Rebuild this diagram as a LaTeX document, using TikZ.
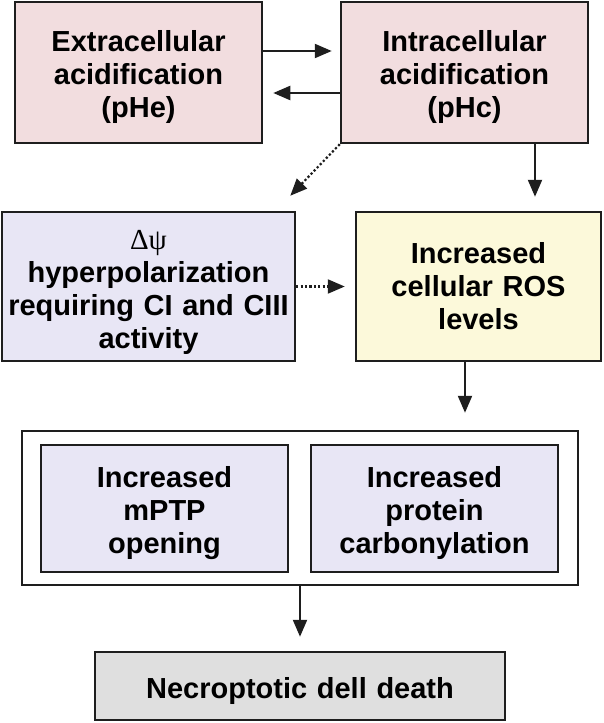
\documentclass[tikz,border=0pt]{standalone}
\usepackage{fontspec}
\setmainfont{Liberation Sans}
\newfontfamily\greekfont{Liberation Serif}
\usetikzlibrary{arrows.meta}
\usetikzlibrary{calc}

\definecolor{pinkbox}{HTML}{F2DDDF}
\definecolor{lilacbox}{HTML}{E8E6F5}
\definecolor{yellowbox}{HTML}{FCF9DA}
\definecolor{greybox}{HTML}{DFDFDF}
\definecolor{edge}{HTML}{1E1E1E}

\begin{document}
\begin{tikzpicture}[x=1pt, y=-1pt,
    box/.style={draw=edge, line width=2.5pt, inner sep=0pt, align=center,
      font=\fontsize{29}{33}\selectfont\bfseries},
    lowtext/.style={execute at begin node={\rule{0pt}{31pt}}},
    arr/.style={draw=edge, line width=2.2pt, -{Triangle[length=17pt, width=14pt]}},
    dotarr/.style={arr, dash pattern=on 2.2pt off 2.2pt}]
      \useasboundingbox (0,0) rectangle (604,723);

      \node[box, lowtext, fill=pinkbox, minimum width=247, minimum height=141, text width=240] (extra) at (138.5,72.5) {Extracellular\\acidification\\(pHe)};
      \node[box, lowtext, fill=pinkbox, minimum width=247, minimum height=141, text width=240] (intra) at (464.5,72.5) {Intracellular\\acidification\\(pHc)};
      \node[box, lowtext, fill=lilacbox, minimum width=293, minimum height=149, text width=290] (dpsi) at (148.5,286.5) {{\greekfont\mdseries Δψ}\\hyperpolarization\\requiring CI and CIII\\activity};
      \node[box, fill=yellowbox, minimum width=245, minimum height=149, text width=240] (ros) at (478.5,286.5) {Increased\\cellular ROS\\levels};

      \node[box, fill=white, minimum width=556, minimum height=154] (group) at (300,508) {};
      \node[box, lowtext, fill=lilacbox, minimum width=247, minimum height=127, text width=240] (mptp) at (164.5,508.5) {Increased\\mPTP\\opening};
      \node[box, lowtext, fill=lilacbox, minimum width=247, minimum height=127, text width=240] (carb) at (434.5,508.5) {Increased\\protein\\carbonylation};

      \node[box, lowtext, fill=greybox, minimum width=410, minimum height=68, text width=400] (necro) at (300,686) {Necroptotic dell death};

      % top row
      \draw[arr, shorten >=8pt] ([yshift=21.5pt]extra.east) -- ([yshift=21.5pt]intra.west);
      \draw[arr, shorten >=10pt] ([yshift=-20.5pt]intra.west) -- ([yshift=-20.5pt]extra.east);
      \draw[dotarr] (intra.south west) -- ([shift={(-6pt,15pt)}]dpsi.north east);
      \coordinate (rosin) at ([xshift=70.5pt]intra.south);
      \draw[arr, shorten >=14pt] (rosin) -- (rosin |- ros.north);

      % middle row
      \draw[dotarr, shorten >=10pt] (dpsi.east) -- (ros.west);
      \coordinate (rosout) at ([xshift=-13.5pt]ros.south);
      \draw[arr, shorten >=17pt] (rosout) -- (rosout |- group.north);

      % bottom
      \draw[arr, shorten >=14pt] (group.south) -- (necro.north);
    \end{tikzpicture}
\end{document}
